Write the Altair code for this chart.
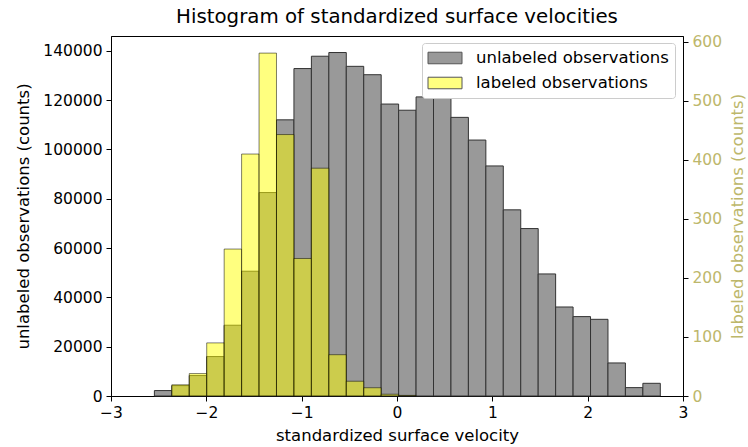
import altair as alt
import pandas as pd

# ---- data ----
bin_left = [-2.545, -2.362, -2.179, -1.996, -1.813, -1.630, -1.447, -1.264, -1.081,
            -0.898, -0.715, -0.532, -0.349, -0.166, 0.017, 0.200, 0.383, 0.566,
            0.749, 0.932, 1.115, 1.298, 1.481, 1.664, 1.847, 2.030, 2.213, 2.396, 2.579]
bin_width = 0.183
unlabeled_counts = [2200, 4200, 8300, 16000, 28700, 50600, 82500, 112000, 132800,
                    137800, 139300, 133700, 130300, 118400, 115900, 121300, 121700, 113000,
                    103800, 93300, 75500, 67900, 49500, 36100, 32200, 31100, 13400, 3400, 5150]
labeled_counts = [0, 19, 38, 90, 249, 410, 581, 443, 233,
                  386, 70, 25, 14, 3, 1, 0, 0, 0,
                  0, 0, 0, 0, 0, 0, 0, 0, 0, 0, 0]
series_names = ["unlabeled observations", "labeled observations"]
x_ticks = [-3, -2, -1, 0, 1, 2, 3]
left_ticks = [0, 20000, 40000, 60000, 80000, 100000, 120000, 140000]
right_ticks = [0, 100, 200, 300, 400, 500, 600]

bin_right = [round(b + bin_width, 3) for b in bin_left]
unl = pd.DataFrame({"start": bin_left, "end": bin_right, "count": unlabeled_counts,
                    "base": [0] * len(bin_left)})
lab = pd.DataFrame({"start": bin_left, "end": bin_right, "count": labeled_counts,
                    "base": [0] * len(bin_left)})
leg = pd.DataFrame({"series": series_names})

FONT = "DejaVu Sans"
KHAKI = "#BDB76B"

xscale = alt.Scale(domain=[-3, 3], nice=False, zero=False)
xaxis = alt.Axis(values=x_ticks, title="standardized surface velocity",
                 labelExpr="replace(datum.label, '-', '\u2212')", titlePadding=7)

gray = alt.Chart(unl).mark_rect(fill="#999999", stroke="#333333", strokeWidth=1).encode(
    x=alt.X("start:Q", scale=xscale, axis=xaxis),
    x2="end:Q",
    y=alt.Y("count:Q", scale=alt.Scale(domain=[0, 146000], nice=False),
            axis=alt.Axis(orient="left", values=left_ticks, format="d",
                          title="unlabeled observations (counts)", titlePadding=11)),
    y2="base:Q",
)

yellow = alt.Chart(lab).transform_filter("datum.count > 0").mark_rect(
    fill="#ffff00", fillOpacity=0.5, stroke="black", strokeOpacity=0.5, strokeWidth=1
).encode(
    x=alt.X("start:Q", scale=xscale, axis=xaxis),
    x2="end:Q",
    y=alt.Y("count:Q", scale=alt.Scale(domain=[0, 610], nice=False),
            axis=alt.Axis(orient="right", values=right_ticks, format="d",
                          title="labeled observations (counts)", titleAngle=270,
                          labelColor=KHAKI, titleColor=KHAKI, titlePadding=24)),
    y2="base:Q",
)

legend_layer = alt.Chart(leg).mark_point(filled=True, size=0, opacity=1).encode(
    fill=alt.Fill("series:N",
                  scale=alt.Scale(domain=series_names, range=["#999999", "#ffff80"]),
                  legend=alt.Legend(title=None, orient="none", legendX=311, legendY=7,
                                    fillColor="white", strokeColor="#cccccc", cornerRadius=3,
                                    padding=6, symbolType="M-2,-0.68H2V0.68H-2Z",
                                    symbolSize=289, symbolStrokeColor="#555555",
                                    symbolStrokeWidth=1, symbolOffset=8,
                                    labelOffset=22, rowPadding=7, labelLimit=400,
                                    labelFont=FONT, labelFontSize=16.5, labelColor="black"))
)

chart = alt.layer(gray, yellow, legend_layer).resolve_scale(y="independent").properties(
    width=572, height=360,
    title=alt.TitleParams("Histogram of standardized surface velocities", font=FONT,
                          fontSize=19.8, fontWeight="normal", color="black", offset=8),
    autosize=alt.AutoSizeParams(type="none"),
    padding={"left": 111, "top": 36, "right": 65, "bottom": 51},
).configure_view(stroke="black", strokeWidth=1).configure_axis(
    domainColor="black", tickColor="black", labelFont=FONT, titleFont=FONT,
    labelFontSize=15.5, titleFontSize=16.5, labelColor="black", titleColor="black",
    tickSize=5, labelPadding=4, titleFontWeight="normal", grid=False, labelFlush=False
)

chart.save("out.html", embed_options={"renderer": "svg", "actions": False})
